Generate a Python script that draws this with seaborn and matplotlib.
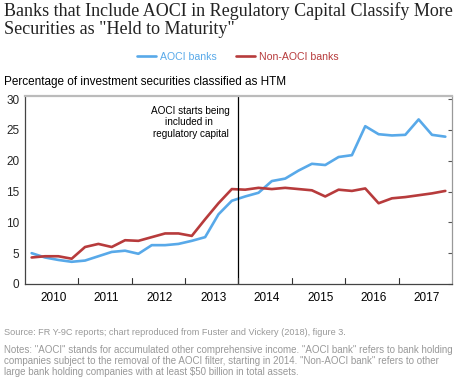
import numpy as np
import pandas as pd
import matplotlib
matplotlib.use("Agg")
import matplotlib.pyplot as plt
import seaborn as sns

years = list(range(2010, 2018))
quarters = [f"{y}Q{q}" for y in years for q in range(1, 5)]
aoci = [5.0, 4.3, 3.9, 3.6, 3.8, 4.5, 5.2, 5.4, 4.9, 6.3, 6.3, 6.5, 7.0, 7.6, 11.3, 13.5,
        14.2, 14.8, 16.7, 17.1, 18.4, 19.5, 19.3, 20.6, 20.9, 25.6, 24.3, 24.1, 24.2, 26.7, 24.2, 23.9]
non_aoci = [4.3, 4.5, 4.5, 4.1, 6.0, 6.5, 6.0, 7.1, 7.0, 7.6, 8.2, 8.2, 7.8, 10.5, 13.1, 15.4,
            15.3, 15.6, 15.4, 15.6, 15.4, 15.2, 14.2, 15.3, 15.1, 15.5, 13.1, 13.9, 14.1, 14.4, 14.7, 15.1]

# mid-quarter position in fractional years
xpos = [int(q[:4]) + (int(q[-1]) - 0.5) / 4 for q in quarters]
df = pd.DataFrame({
    "t": xpos * 2,
    "value": aoci + non_aoci,
    "group": ["AOCI banks"] * len(aoci) + ["Non-AOCI banks"] * len(non_aoci),
})

sns.set_style("white")
plt.rcParams["font.family"] = ["Liberation Sans", "DejaVu Sans"]

colors = {"AOCI banks": "#58A9E9", "Non-AOCI banks": "#B73B3C"}

fig = plt.figure(figsize=(4.6, 3.79), dpi=100)
ax = fig.add_axes([0.0543, 0.2507, 0.9283, 0.496])
sns.lineplot(data=df, x="t", y="value", hue="group", palette=colors,
             linewidth=1.9, ax=ax, legend=True)

ax.axvline(2014.0, color="black", linewidth=0.9)
ax.text(2013.84, 28.9, "AOCI starts being\nincluded in \nregulatory capital",
        ha="right", va="top", multialignment="center", fontsize=7.2, color="black")

ax.set_xlim(2010, 2018)
ax.set_ylim(0, 30.5)
ax.set_xlabel("")
ax.set_ylabel("")

ax.set_xticks([y + 0.53 for y in years], minor=False)
ax.set_xticklabels([str(y) for y in years])
ax.set_xticks(np.arange(2010, 2018.01, 0.25), minor=True)
ax.tick_params(axis="x", which="major", length=0, labelsize=8.5, pad=6, colors="black")
ax.tick_params(axis="x", which="minor", direction="in", length=3, color="#333333", width=0.7)
for yb in years[1:]:
    ax.plot([yb, yb], [0, 0.9], color="#333333", linewidth=0.8, clip_on=False)

ax.set_yticks([0, 5, 10, 15, 20, 25, 30])
ax.tick_params(axis="y", which="major", left=False, right=True, direction="in",
               length=3, labelsize=8.5, pad=4, color="#555555")
ax.yaxis.set_ticks_position("right")
ax.yaxis.set_tick_params(labelleft=True, labelright=False)

for side, c, w in [("left", "#444444", 0.9), ("bottom", "#444444", 0.9),
                   ("right", "#999999", 0.9), ("top", "#bbbbbb", 1.6)]:
    ax.spines[side].set_color(c)
    ax.spines[side].set_linewidth(w)
    ax.spines[side].set_visible(True)

leg = ax.get_legend()
handles = leg.legend_handles
labels = [t.get_text() for t in leg.get_texts()]
leg.remove()
leg = fig.legend(handles, labels, loc="center", bbox_to_anchor=(0.517, 0.850), ncol=2,
                 frameon=False, fontsize=7.6, handlelength=1.8, columnspacing=1.8,
                 handletextpad=0.38)
for txt, lab in zip(leg.get_texts(), labels):
    txt.set_color(colors[lab])

fig.text(0.009, 0.994, "Banks that Include AOCI in Regulatory Capital Classify More\nSecurities as \"Held to Maturity\"",
         ha="left", va="top", fontsize=13.0, family=["Liberation Serif", "DejaVu Serif"],
         linespacing=1.1, color="#222222")
fig.text(0.009, 0.783, "Percentage of investment securities classified as HTM",
         ha="left", va="center", fontsize=8.5, color="black")
fig.text(0.009, 0.124, "Source: FR Y-9C reports; chart reproduced from Fuster and Vickery (2018), figure 3.",
         ha="left", va="center", fontsize=6.55, color="#999999")
fig.text(0.009, 0.091,
         "Notes: \"AOCI\" stands for accumulated other comprehensive income. \"AOCI bank\" refers to bank holding\n"
         "companies subject to the removal of the AOCI filter, starting in 2014. \"Non-AOCI bank\" refers to other\n"
         "large bank holding companies with at least $50 billion in total assets.",
         ha="left", va="top", fontsize=7.0, color="#999999", linespacing=1.15)

fig.savefig("out.png", dpi=100)
